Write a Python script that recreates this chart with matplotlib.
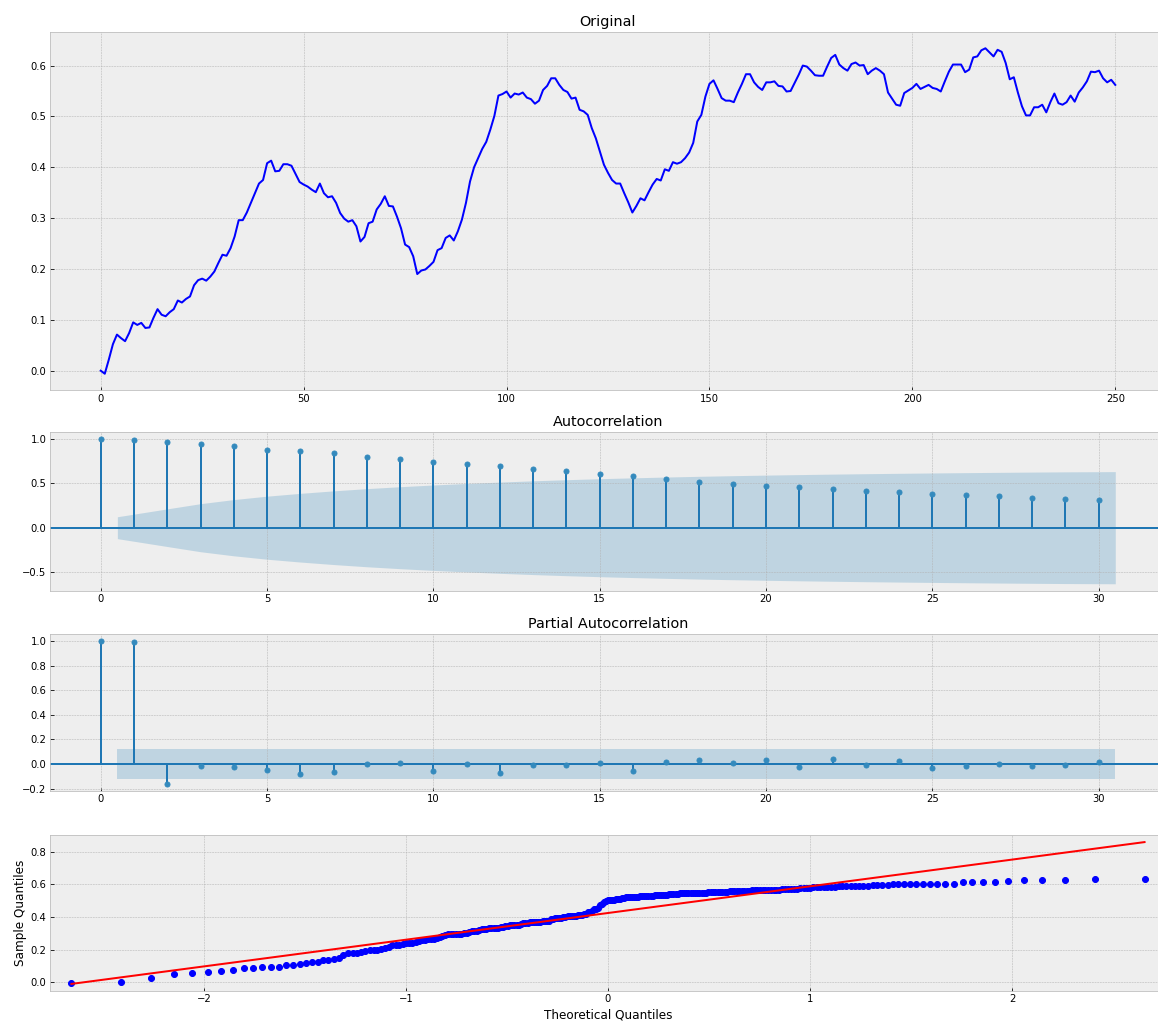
import numpy as np
import matplotlib
matplotlib.use('Agg')
import matplotlib.pyplot as plt
from statistics import NormalDist

# ---- data ----
series = [
    0.000, -0.006, 0.022, 0.052, 0.071, 0.064, 0.058, 0.074, 0.095, 0.090,
    0.094, 0.084, 0.085, 0.104, 0.121, 0.110, 0.107, 0.115, 0.121, 0.138,
    0.134, 0.141, 0.146, 0.168, 0.178, 0.181, 0.177, 0.185, 0.195, 0.212,
    0.228, 0.226, 0.241, 0.264, 0.296, 0.296, 0.311, 0.330, 0.349, 0.368,
    0.375, 0.408, 0.413, 0.392, 0.393, 0.406, 0.406, 0.403, 0.387, 0.371,
    0.366, 0.362, 0.356, 0.351, 0.368, 0.349, 0.341, 0.343, 0.330, 0.310,
    0.299, 0.293, 0.296, 0.284, 0.254, 0.263, 0.290, 0.293, 0.317, 0.328,
    0.343, 0.324, 0.323, 0.303, 0.280, 0.248, 0.243, 0.225, 0.190, 0.197,
    0.199, 0.206, 0.214, 0.237, 0.241, 0.261, 0.266, 0.256, 0.274, 0.297,
    0.330, 0.372, 0.400, 0.418, 0.436, 0.450, 0.474, 0.501, 0.541, 0.544,
    0.549, 0.537, 0.545, 0.543, 0.547, 0.537, 0.534, 0.525, 0.531, 0.552,
    0.560, 0.575, 0.575, 0.562, 0.552, 0.548, 0.535, 0.537, 0.513, 0.510,
    0.503, 0.477, 0.457, 0.431, 0.405, 0.389, 0.375, 0.368, 0.368, 0.349,
    0.331, 0.311, 0.324, 0.339, 0.335, 0.351, 0.366, 0.377, 0.374, 0.396,
    0.393, 0.410, 0.407, 0.410, 0.418, 0.429, 0.448, 0.490, 0.503, 0.539,
    0.564, 0.571, 0.554, 0.536, 0.531, 0.531, 0.528, 0.547, 0.564, 0.583,
    0.583, 0.567, 0.558, 0.552, 0.567, 0.567, 0.569, 0.560, 0.559, 0.549,
    0.550, 0.566, 0.582, 0.600, 0.598, 0.590, 0.581, 0.580, 0.580, 0.598,
    0.615, 0.621, 0.602, 0.595, 0.590, 0.603, 0.606, 0.600, 0.601, 0.583,
    0.590, 0.595, 0.590, 0.583, 0.547, 0.535, 0.523, 0.521, 0.546, 0.551,
    0.556, 0.564, 0.554, 0.558, 0.562, 0.556, 0.554, 0.549, 0.569, 0.588,
    0.602, 0.602, 0.602, 0.587, 0.592, 0.616, 0.618, 0.630, 0.634, 0.626,
    0.618, 0.631, 0.627, 0.605, 0.573, 0.577, 0.547, 0.520, 0.502, 0.502,
    0.518, 0.518, 0.523, 0.508, 0.528, 0.545, 0.526, 0.523, 0.528, 0.541,
    0.529, 0.547, 0.557, 0.569, 0.588, 0.587, 0.590, 0.575, 0.567, 0.572,
    0.562,
]

acf_values = [
    1.000, 0.989, 0.966, 0.943, 0.920, 0.881, 0.862, 0.839, 0.801, 0.778,
    0.743, 0.720, 0.697, 0.663, 0.636, 0.602, 0.579, 0.556, 0.521, 0.498,
    0.475, 0.460, 0.437, 0.414, 0.402, 0.379, 0.368, 0.356, 0.333, 0.322,
    0.310,
]

pacf_values = [
    1.000, 0.989, -0.162, -0.014, -0.022, -0.046, -0.078, -0.062, 0.003, 0.011,
    -0.054, 0.003, -0.070, -0.005, -0.005, 0.011, -0.054, 0.019, 0.030, 0.011,
    0.035, -0.022, 0.038, -0.005, 0.027, -0.030, -0.014, 0.003, -0.014, -0.005,
    0.019,
]

titles = ['Original', 'Autocorrelation', 'Partial Autocorrelation']
qq_xlabel = 'Theoretical Quantiles'
qq_ylabel = 'Sample Quantiles'

# ---- figure ----
plt.style.use('bmh')
W, H = 1158, 1023
fig = plt.figure(figsize=(W / 72, H / 72), dpi=72)


def ax_at(top, bottom, left=50, right=1166):
    return fig.add_axes([left / W, 1 - bottom / H, (right - left) / W, (bottom - top) / H])


ts_ax = ax_at(32, 390)
acf_ax = ax_at(432, 591)
pacf_ax = ax_at(634, 791)
qq_ax = ax_at(835, 991)

y = np.asarray(series)
n = len(y)
z = NormalDist().inv_cdf(0.975)

# time series
ts_ax.plot(np.arange(n), y, color='b', lw=2)
ts_ax.set_title(titles[0])


def corr_plot(ax, vals, band, title):
    vals = np.asarray(vals)
    lags = np.arange(len(vals))
    ax.vlines(lags, [0], vals, colors='#1f77b4', lw=2)
    ax.axhline(0, color='#1f77b4', lw=2)
    ax.margins(0.05)
    ax.plot(lags, vals, 'o', ms=5, color='#348ABD')
    fl = lags[1:].astype(float)
    fl[0] -= 0.5
    fl[-1] += 0.5
    ax.fill_between(fl, -band, band, alpha=0.25, color='#348ABD', lw=0)
    ax.set_title(title)


acf_arr = np.asarray(acf_values)
varacf = np.ones(len(acf_arr)) / n
varacf[2:] *= 1 + 2 * np.cumsum(acf_arr[1:-1] ** 2)
acf_band = z * np.sqrt(varacf[1:])
corr_plot(acf_ax, acf_values, acf_band, titles[1])

pacf_band = np.full(len(pacf_values) - 1, z / np.sqrt(n))
corr_plot(pacf_ax, pacf_values, pacf_band, titles[2])

# QQ plot
sample = np.sort(y)
pos = np.arange(1, n + 1) / (n + 1)
theo = np.array([NormalDist().inv_cdf(p) for p in pos])
qq_ax.plot(theo, sample, 'bo', ms=6)
qq_ax.set_xmargin(0.02)
ref = theo * np.std(y) + np.mean(y)
qq_ax.plot(theo, ref, 'r-', lw=2)
qq_ax.set_xlabel(qq_xlabel)
qq_ax.set_ylabel(qq_ylabel)

fig.savefig('out.png', dpi=72)
